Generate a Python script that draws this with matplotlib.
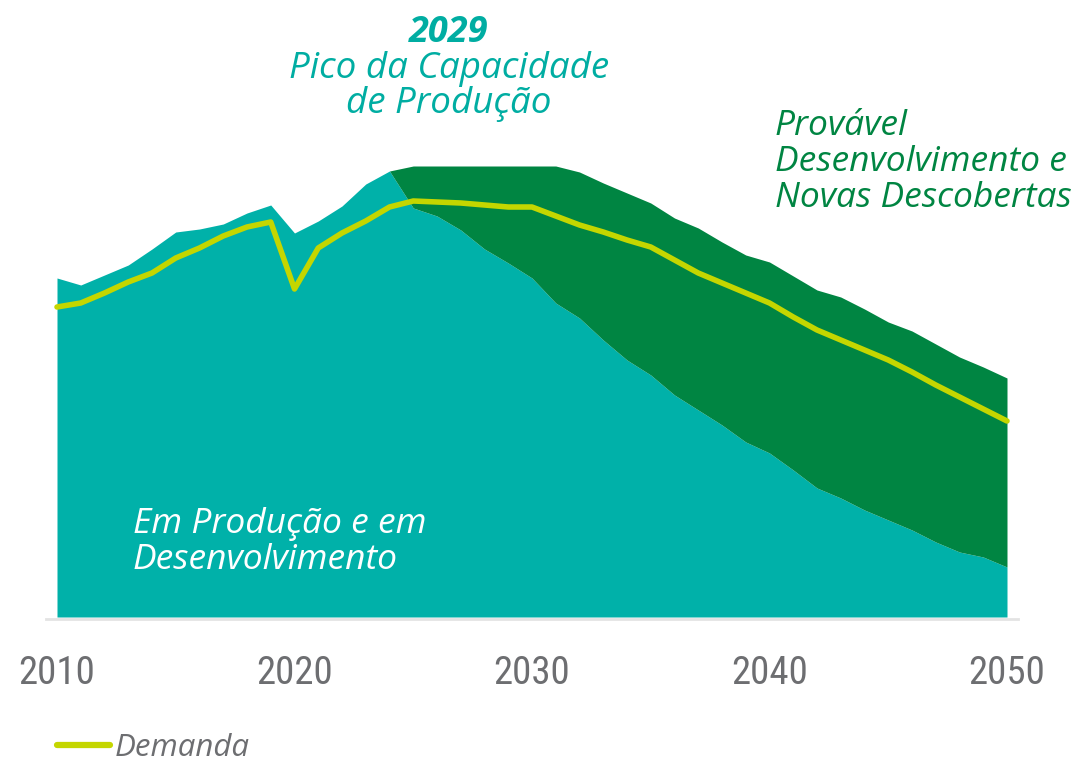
import matplotlib
matplotlib.use("Agg")
import matplotlib.pyplot as plt
from matplotlib.lines import Line2D
from matplotlib import font_manager as fm
import numpy as np

years = list(range(2010, 2051))
em_producao = [339, 332, 342, 352, 368, 385, 388, 393, 404, 412,
               384, 396, 411, 433, 446, 409, 401, 387, 368, 354,
               339, 314, 299, 277, 257, 242, 222, 207, 192, 175,
               164, 147, 129, 119, 107, 97, 87, 75, 65, 60, 50]
total_capacidade = [339, 332, 342, 352, 368, 385, 388, 393, 404, 412,
                    384, 396, 411, 433, 446, 451, 451, 451, 451, 451,
                    451, 451, 445, 434, 424, 414, 399, 389, 375, 362,
                    355, 341, 327, 320, 308, 295, 286, 273, 260, 250, 239]
demanda = [310, 314, 324, 335, 344, 359, 369, 381, 390, 395,
           328, 369, 384, 396, 410, 416, 415, 414, 412, 410,
           410, 401, 392, 385, 377, 370, 357, 344, 334, 324,
           314, 300, 287, 277, 267, 257, 245, 232, 220, 208, 196]
tick_years = [2010, 2020, 2030, 2040, 2050]
tick_labels = ["2010", "2020", "2030", "2040", "2050"]

TEAL = "#00B1A9"
GREEN = "#008542"
LIME = "#C4D600"
GRAY = "#6D6E71"
TEAL_TXT = "#00ADA2"

# pick a condensed family for the axis labels if one is installed
names = {f.name for f in fm.fontManager.ttflist}
cond_entries = [f for f in fm.fontManager.ttflist
                if ("condensed" in str(f.stretch).lower() or "Condensed" in f.name
                    or "Narrow" in f.name) and f.style == "normal"]
tick_prop = None
for pref in ["Liberation Sans Narrow", "Roboto Condensed", "Open Sans Condensed",
             "DejaVu Sans Condensed", "Noto Sans Condensed"]:
    hit = [f for f in cond_entries if f.name == pref]
    if hit:
        tick_prop = fm.FontProperties(fname=hit[0].fname, size=28)
        break
if tick_prop is None and cond_entries:
    reg = [f for f in cond_entries if f.weight in (400, "normal", "regular")]
    tick_prop = fm.FontProperties(fname=(reg or cond_entries)[0].fname, size=28)
if tick_prop is None:
    tick_prop = fm.FontProperties(family="DejaVu Sans", size=22)

txtfont = ["Open Sans", "DejaVu Sans"]

W, H = 1084, 763
fig = plt.figure(figsize=(W / 100, H / 100), dpi=100)
ax = fig.add_axes([57 / W, 146 / H, 950 / W, 517 / H])
ax.set_xlim(2010, 2050)
ax.set_ylim(0, 517)

x = np.array(years)
teal = np.array(em_producao)
tot = np.array(total_capacidade)
ax.fill_between(x, 0, teal, color=TEAL, lw=0)
ax.fill_between(x, teal, tot, where=tot > teal, color=GREEN, lw=0, interpolate=True)
ax.plot(x, demanda, color=LIME, lw=4.0, solid_capstyle="round", solid_joinstyle="round",
        clip_on=False, zorder=3)
ax.plot([2009.52, 2050.48], [-1.5, -1.5], color="#E3E3E3", lw=2, clip_on=False, zorder=1)

for s in ax.spines.values():
    s.set_visible(False)
ax.set_yticks([])
ax.set_xticks(tick_years)
ax.set_xticklabels(tick_labels, color=GRAY, fontproperties=tick_prop)
ax.tick_params(axis="x", length=0, pad=27)

def ftext(px, py, s, **kw):
    fig.text(px / W, 1 - py / H, s, va="baseline", family=txtfont, style="italic", **kw)

ftext(449, 42, "2029", ha="center", fontsize=26, weight="bold", color=TEAL_TXT)
ftext(449, 78, "Pico da Capacidade", ha="center", fontsize=26.5, color=TEAL_TXT)
ftext(449, 113, "de Produção", ha="center", fontsize=26.5, color=TEAL_TXT)

ftext(775, 135, "Provável", ha="left", fontsize=25.5, color=GREEN)
ftext(775, 171, "Desenvolvimento e", ha="left", fontsize=25.5, color=GREEN)
ftext(775, 207, "Novas Descobertas", ha="left", fontsize=25.5, color=GREEN)

ftext(133, 533, "Em Produção e em", ha="left", fontsize=25.5, color="white")
ftext(133, 569, "Desenvolvimento", ha="left", fontsize=25.5, color="white")

handle = Line2D([], [], color=LIME, lw=4.5, solid_capstyle="round")
leg = ax.legend([handle], ["Demanda"], loc="center left",
                bbox_to_anchor=(57 / W, 1 - 748 / H), bbox_transform=fig.transFigure,
                frameon=False, handlelength=1.7, handletextpad=0.15, borderpad=0,
                borderaxespad=0,
                prop={"family": txtfont, "style": "italic", "size": 22.5})
for t in leg.get_texts():
    t.set_color(GRAY)

fig.savefig("out.png", dpi=100)
